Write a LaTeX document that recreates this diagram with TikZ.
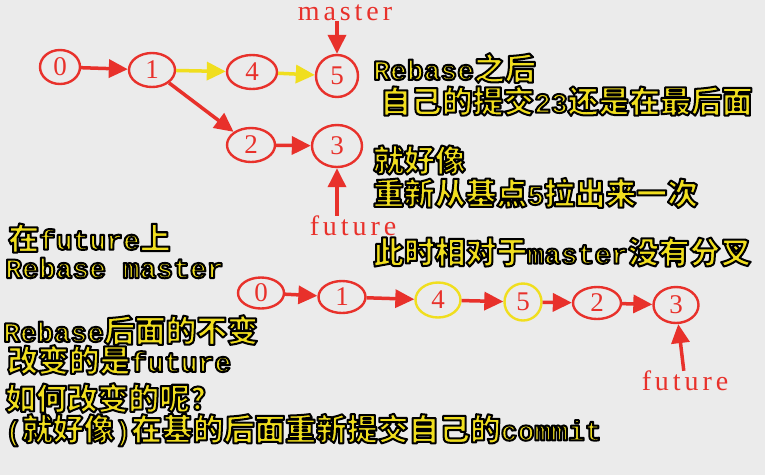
\documentclass[tikz,border=0pt]{standalone}
\usepackage{fontspec}
\usetikzlibrary{arrows.meta,shapes.geometric}
\newfontfamily\cjk[Scale=1.1]{Noto Sans CJK SC}
\newfontfamily\monofam{Liberation Mono}
\newfontfamily\serifam{Liberation Serif}
\newfontfamily\lblfam[LetterSpace=14]{Liberation Serif}
\newcommand\C[1]{{\cjk\bfseries #1}}
\newcommand\outl[1]{\special{pdf:code q 0 0 0 RG 2 Tr 2 w 1 j}#1\special{pdf:code Q}}
\definecolor{bg}{HTML}{EBEBEB}
\definecolor{cred}{HTML}{E8312B}
\definecolor{cyel}{HTML}{F0DE1E}
\begin{document}
\begin{tikzpicture}[x=1pt,y=-1pt,
  yt/.style={anchor=west,inner sep=0pt,text=cyel,font=\monofam\bfseries\fontsize{28}{30}\selectfont},
  commit/.style={ellipse,draw=cred,line width=2.4pt,inner sep=0pt,text=cred,font=\serifam\fontsize{27}{27}\selectfont},
  ycommit/.style={commit,draw=cyel},
  lbl/.style={inner sep=0pt,text=cred,font=\lblfam\fontsize{28}{28}\selectfont},
  rarr/.style={draw=cred,line width=3.5pt,-{Triangle[length=19pt,width=18pt]}},
  yarr/.style={rarr,draw=cyel},
]
\fill[bg] (0,0) rectangle (765,475);
\path[use as bounding box] (0,0) rectangle (765,475);

% top graph
\node[commit,minimum width=40pt,minimum height=34pt] (t0) at (60,67) {0};
\node[commit,minimum width=46pt,minimum height=34pt] (t1) at (152,70) {1};
\node[commit,minimum width=50pt,minimum height=34pt] (t4) at (252,72) {4};
\node[commit,minimum width=42pt,minimum height=42pt] (t5) at (337,76) {5};
\node[commit,minimum width=48pt,minimum height=34pt] (t2) at (251,145) {2};
\node[commit,minimum width=50pt,minimum height=42pt] (t3) at (337,146) {3};
\node[lbl] (tm) at (345,13) {master};
\node[lbl] (tf) at (353,226) {future};

\draw[rarr] (t0) -- (t1);
\draw[yarr] (t1) -- (t4);
\draw[yarr] (t4) -- (t5);
\draw[rarr] (t1) -- (t2);
\draw[rarr] (t2) -- (t3);
\draw[rarr] (tm.south -| t5) -- (t5);
\draw[rarr] (tf.north -| t3) -- (t3);

% right texts
\node[yt] (r1) at (373,68) {\outl{Rebase\C{之后}}};
\node[yt] (r2) at (380,101) {\outl{\C{自己的提交}23\C{还是在最后面}}};
\node[yt] (r3) at (373,160) {\outl{\C{就好像}}};
\node[yt] (r4) at (373,193) {\outl{\C{重新从基点}5\C{拉出来一次}}};
\node[yt] (r5) at (373,252) {\outl{\C{此时相对于}master\C{没有分叉}}};

% left texts
\node[yt] (l1) at (8,238) {\outl{\C{在}future\C{上}}};
\node[yt] (l2) at (5,268) {\outl{Rebase master}};
\node[yt] (l3) at (3,330) {\outl{Rebase\C{后面的不变}}};
\node[yt] (l4) at (7,360) {\outl{\C{改变的是}future}};
\node[yt] (l5) at (5,398) {\outl{\C{如何改变的呢？}}};
\node[yt] (l6) at (5,430) {\outl{(\C{就好像})\C{在基的后面重新提交自己的}commit}};

% bottom graph
\node[commit,minimum width=46pt,minimum height=31pt] (b0) at (261,293) {0};
\node[commit,minimum width=47pt,minimum height=32pt] (b1) at (342,297) {1};
\node[ycommit,minimum width=45pt,minimum height=35pt] (b4) at (438,300) {4};
\node[ycommit,minimum width=37pt,minimum height=37pt] (b5) at (523,302) {5};
\node[commit,minimum width=48pt,minimum height=32pt] (b2) at (597,303) {2};
\node[commit,minimum width=45pt,minimum height=36pt] (b3) at (676,305) {3};
\node[lbl] (bf) at (685,381) {future};

\draw[rarr] (b0) -- (b1);
\draw[rarr] (b1) -- (b4);
\draw[rarr] (b4) -- (b5);
\draw[rarr] (b5) -- (b2);
\draw[rarr] (b2) -- (b3);
\draw[rarr] (bf) -- (b3);
\end{tikzpicture}
\end{document}
